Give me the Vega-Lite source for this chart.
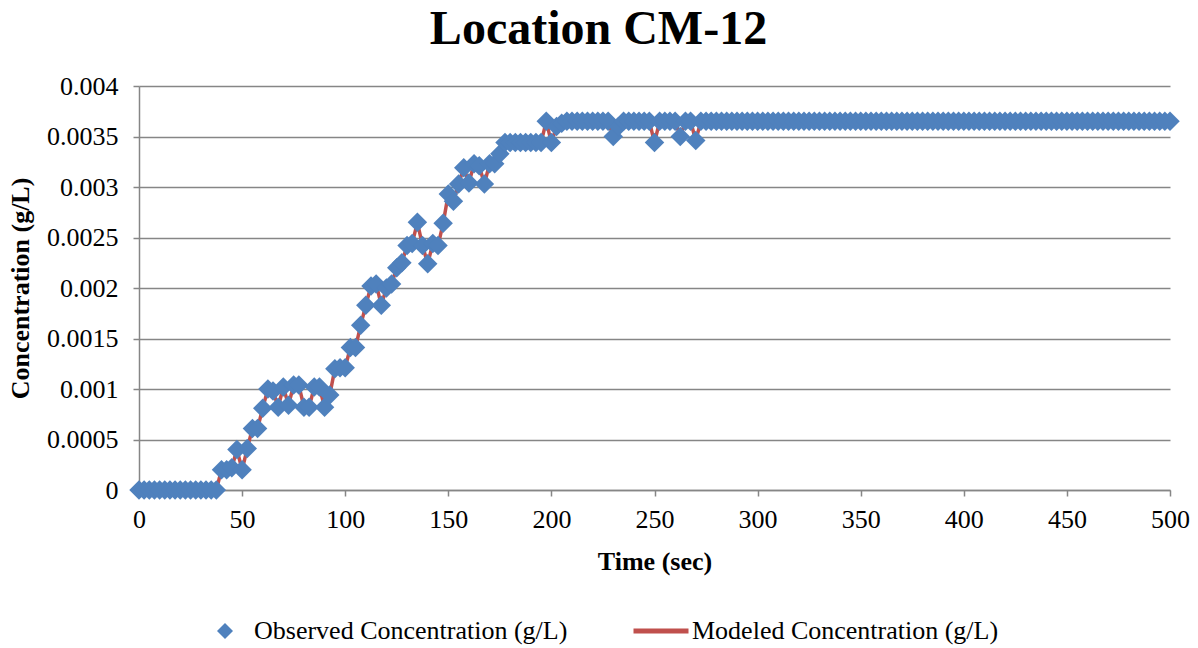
{
  "$schema": "https://vega.github.io/schema/vega-lite/v6.json",
  "width": 1031,
  "height": 404,
  "autosize": {"type": "none"},
  "padding": {"left": 139, "top": 86, "right": 28, "bottom": 158},
  "background": "white",
  "title": {
    "text": "Location CM-12",
    "font": "Liberation Serif",
    "fontSize": 48,
    "fontWeight": "bold",
    "color": "black",
    "anchor": "middle",
    "frame": "bounds",
    "offset": 19
  },
  "config": {
    "view": {"stroke": null},
    "axis": {
      "labelFont": "Liberation Serif",
      "labelFontSize": 26,
      "labelColor": "black",
      "titleFont": "Liberation Serif",
      "titleFontSize": 26,
      "titleFontWeight": "bold",
      "titleColor": "black",
      "domainColor": "#868686",
      "domainWidth": 1.5,
      "tickColor": "#868686",
      "tickWidth": 1.5,
      "tickSize": 6,
      "gridColor": "#868686",
      "gridWidth": 1.5,
      "gridOpacity": 1
    },
    "legend": {
      "labelFont": "Liberation Serif",
      "labelFontSize": 26,
      "labelColor": "black",
      "labelLimit": 600,
      "padding": 0
    }
  },
  "data": {
    "values": [
      {"time": 0, "observed": 0, "modeled": 0},
      {"time": 2.5, "observed": 0, "modeled": 0},
      {"time": 5, "observed": 0, "modeled": 0},
      {"time": 7.5, "observed": 0, "modeled": 0},
      {"time": 10, "observed": 0, "modeled": 0},
      {"time": 12.5, "observed": 0, "modeled": 0},
      {"time": 15, "observed": 0, "modeled": 0},
      {"time": 17.5, "observed": 0, "modeled": 0},
      {"time": 20, "observed": 0, "modeled": 0},
      {"time": 22.5, "observed": 0, "modeled": 0},
      {"time": 25, "observed": 0, "modeled": 0},
      {"time": 27.5, "observed": 0, "modeled": 0},
      {"time": 30, "observed": 0, "modeled": 0},
      {"time": 32.5, "observed": 0, "modeled": 0},
      {"time": 35, "observed": 0, "modeled": 0},
      {"time": 37.5, "observed": 0, "modeled": 0},
      {"time": 40, "observed": 0.0002, "modeled": 0.0002},
      {"time": 42.5, "observed": 0.0002, "modeled": 0.0002},
      {"time": 45, "observed": 0.00022, "modeled": 0.00022},
      {"time": 47.5, "observed": 0.0004, "modeled": 0.0004},
      {"time": 50, "observed": 0.0002, "modeled": 0.0002},
      {"time": 52.5, "observed": 0.00041, "modeled": 0.00041},
      {"time": 55, "observed": 0.00061, "modeled": 0.00061},
      {"time": 57.5, "observed": 0.00061, "modeled": 0.00061},
      {"time": 60, "observed": 0.00081, "modeled": 0.00081},
      {"time": 62.5, "observed": 0.001, "modeled": 0.001},
      {"time": 65, "observed": 0.00098, "modeled": 0.00098},
      {"time": 67.5, "observed": 0.00082, "modeled": 0.00082},
      {"time": 70, "observed": 0.00102, "modeled": 0.00102},
      {"time": 72.5, "observed": 0.00084, "modeled": 0.00084},
      {"time": 75, "observed": 0.00104, "modeled": 0.00104},
      {"time": 77.5, "observed": 0.00104, "modeled": 0.00104},
      {"time": 80, "observed": 0.00082, "modeled": 0.00082},
      {"time": 82.5, "observed": 0.00082, "modeled": 0.00082},
      {"time": 85, "observed": 0.00102, "modeled": 0.00102},
      {"time": 87.5, "observed": 0.00102, "modeled": 0.00102},
      {"time": 90, "observed": 0.00082, "modeled": 0.00082},
      {"time": 92.5, "observed": 0.00094, "modeled": 0.00094},
      {"time": 95, "observed": 0.0012, "modeled": 0.0012},
      {"time": 97.5, "observed": 0.00121, "modeled": 0.00121},
      {"time": 100, "observed": 0.00121, "modeled": 0.00121},
      {"time": 102.5, "observed": 0.00141, "modeled": 0.00141},
      {"time": 105, "observed": 0.00141, "modeled": 0.00141},
      {"time": 107.5, "observed": 0.00163, "modeled": 0.00163},
      {"time": 110, "observed": 0.00183, "modeled": 0.00183},
      {"time": 112.5, "observed": 0.00202, "modeled": 0.00202},
      {"time": 115, "observed": 0.00204, "modeled": 0.00204},
      {"time": 117.5, "observed": 0.00183, "modeled": 0.00183},
      {"time": 120, "observed": 0.002, "modeled": 0.002},
      {"time": 122.5, "observed": 0.00204, "modeled": 0.00204},
      {"time": 125, "observed": 0.0022, "modeled": 0.0022},
      {"time": 127.5, "observed": 0.00225, "modeled": 0.00225},
      {"time": 130, "observed": 0.00242, "modeled": 0.00242},
      {"time": 132.5, "observed": 0.00244, "modeled": 0.00244},
      {"time": 135, "observed": 0.00265, "modeled": 0.00265},
      {"time": 137.5, "observed": 0.00242, "modeled": 0.00242},
      {"time": 140, "observed": 0.00224, "modeled": 0.00224},
      {"time": 142.5, "observed": 0.00244, "modeled": 0.00244},
      {"time": 145, "observed": 0.00242, "modeled": 0.00242},
      {"time": 147.5, "observed": 0.00264, "modeled": 0.00264},
      {"time": 150, "observed": 0.00293, "modeled": 0.00293},
      {"time": 152.5, "observed": 0.00286, "modeled": 0.00286},
      {"time": 155, "observed": 0.00303, "modeled": 0.00303},
      {"time": 157.5, "observed": 0.00319, "modeled": 0.00319},
      {"time": 160, "observed": 0.00304, "modeled": 0.00304},
      {"time": 162.5, "observed": 0.00323, "modeled": 0.00323},
      {"time": 165, "observed": 0.00321, "modeled": 0.00321},
      {"time": 167.5, "observed": 0.00303, "modeled": 0.00303},
      {"time": 170, "observed": 0.00323, "modeled": 0.00323},
      {"time": 172.5, "observed": 0.00323, "modeled": 0.00323},
      {"time": 175, "observed": 0.00333, "modeled": 0.00333},
      {"time": 177.5, "observed": 0.00344, "modeled": 0.00344},
      {"time": 180, "observed": 0.00344, "modeled": 0.00344},
      {"time": 182.5, "observed": 0.00344, "modeled": 0.00344},
      {"time": 185, "observed": 0.00344, "modeled": 0.00344},
      {"time": 187.5, "observed": 0.00344, "modeled": 0.00344},
      {"time": 190, "observed": 0.00344, "modeled": 0.00344},
      {"time": 192.5, "observed": 0.00344, "modeled": 0.00344},
      {"time": 195, "observed": 0.00344, "modeled": 0.00344},
      {"time": 197.5, "observed": 0.00365, "modeled": 0.00365},
      {"time": 200, "observed": 0.00344, "modeled": 0.00344},
      {"time": 202.5, "observed": 0.0036, "modeled": 0.0036},
      {"time": 205, "observed": 0.00363, "modeled": 0.00363},
      {"time": 207.5, "observed": 0.00365, "modeled": 0.00365},
      {"time": 210, "observed": 0.00365, "modeled": 0.00365},
      {"time": 212.5, "observed": 0.00365, "modeled": 0.00365},
      {"time": 215, "observed": 0.00365, "modeled": 0.00365},
      {"time": 217.5, "observed": 0.00365, "modeled": 0.00365},
      {"time": 220, "observed": 0.00365, "modeled": 0.00365},
      {"time": 222.5, "observed": 0.00365, "modeled": 0.00365},
      {"time": 225, "observed": 0.00365, "modeled": 0.00365},
      {"time": 227.5, "observed": 0.00365, "modeled": 0.00365},
      {"time": 230, "observed": 0.0035, "modeled": 0.0035},
      {"time": 232.5, "observed": 0.0036, "modeled": 0.0036},
      {"time": 235, "observed": 0.00365, "modeled": 0.00365},
      {"time": 237.5, "observed": 0.00365, "modeled": 0.00365},
      {"time": 240, "observed": 0.00365, "modeled": 0.00365},
      {"time": 242.5, "observed": 0.00365, "modeled": 0.00365},
      {"time": 245, "observed": 0.00365, "modeled": 0.00365},
      {"time": 247.5, "observed": 0.00365, "modeled": 0.00365},
      {"time": 250, "observed": 0.00344, "modeled": 0.00344},
      {"time": 252.5, "observed": 0.00365, "modeled": 0.00365},
      {"time": 255, "observed": 0.00365, "modeled": 0.00365},
      {"time": 257.5, "observed": 0.00365, "modeled": 0.00365},
      {"time": 260, "observed": 0.00365, "modeled": 0.00365},
      {"time": 262.5, "observed": 0.0035, "modeled": 0.0035},
      {"time": 265, "observed": 0.00365, "modeled": 0.00365},
      {"time": 267.5, "observed": 0.00365, "modeled": 0.00365},
      {"time": 270, "observed": 0.00346, "modeled": 0.00346},
      {"time": 272.5, "observed": 0.00365, "modeled": 0.00365},
      {"time": 275, "observed": 0.00365, "modeled": 0.00365},
      {"time": 277.5, "observed": 0.00365, "modeled": 0.00365},
      {"time": 280, "observed": 0.00365, "modeled": 0.00365},
      {"time": 282.5, "observed": 0.00365, "modeled": 0.00365},
      {"time": 285, "observed": 0.00365, "modeled": 0.00365},
      {"time": 287.5, "observed": 0.00365, "modeled": 0.00365},
      {"time": 290, "observed": 0.00365, "modeled": 0.00365},
      {"time": 292.5, "observed": 0.00365, "modeled": 0.00365},
      {"time": 295, "observed": 0.00365, "modeled": 0.00365},
      {"time": 297.5, "observed": 0.00365, "modeled": 0.00365},
      {"time": 300, "observed": 0.00365, "modeled": 0.00365},
      {"time": 302.5, "observed": 0.00365, "modeled": 0.00365},
      {"time": 305, "observed": 0.00365, "modeled": 0.00365},
      {"time": 307.5, "observed": 0.00365, "modeled": 0.00365},
      {"time": 310, "observed": 0.00365, "modeled": 0.00365},
      {"time": 312.5, "observed": 0.00365, "modeled": 0.00365},
      {"time": 315, "observed": 0.00365, "modeled": 0.00365},
      {"time": 317.5, "observed": 0.00365, "modeled": 0.00365},
      {"time": 320, "observed": 0.00365, "modeled": 0.00365},
      {"time": 322.5, "observed": 0.00365, "modeled": 0.00365},
      {"time": 325, "observed": 0.00365, "modeled": 0.00365},
      {"time": 327.5, "observed": 0.00365, "modeled": 0.00365},
      {"time": 330, "observed": 0.00365, "modeled": 0.00365},
      {"time": 332.5, "observed": 0.00365, "modeled": 0.00365},
      {"time": 335, "observed": 0.00365, "modeled": 0.00365},
      {"time": 337.5, "observed": 0.00365, "modeled": 0.00365},
      {"time": 340, "observed": 0.00365, "modeled": 0.00365},
      {"time": 342.5, "observed": 0.00365, "modeled": 0.00365},
      {"time": 345, "observed": 0.00365, "modeled": 0.00365},
      {"time": 347.5, "observed": 0.00365, "modeled": 0.00365},
      {"time": 350, "observed": 0.00365, "modeled": 0.00365},
      {"time": 352.5, "observed": 0.00365, "modeled": 0.00365},
      {"time": 355, "observed": 0.00365, "modeled": 0.00365},
      {"time": 357.5, "observed": 0.00365, "modeled": 0.00365},
      {"time": 360, "observed": 0.00365, "modeled": 0.00365},
      {"time": 362.5, "observed": 0.00365, "modeled": 0.00365},
      {"time": 365, "observed": 0.00365, "modeled": 0.00365},
      {"time": 367.5, "observed": 0.00365, "modeled": 0.00365},
      {"time": 370, "observed": 0.00365, "modeled": 0.00365},
      {"time": 372.5, "observed": 0.00365, "modeled": 0.00365},
      {"time": 375, "observed": 0.00365, "modeled": 0.00365},
      {"time": 377.5, "observed": 0.00365, "modeled": 0.00365},
      {"time": 380, "observed": 0.00365, "modeled": 0.00365},
      {"time": 382.5, "observed": 0.00365, "modeled": 0.00365},
      {"time": 385, "observed": 0.00365, "modeled": 0.00365},
      {"time": 387.5, "observed": 0.00365, "modeled": 0.00365},
      {"time": 390, "observed": 0.00365, "modeled": 0.00365},
      {"time": 392.5, "observed": 0.00365, "modeled": 0.00365},
      {"time": 395, "observed": 0.00365, "modeled": 0.00365},
      {"time": 397.5, "observed": 0.00365, "modeled": 0.00365},
      {"time": 400, "observed": 0.00365, "modeled": 0.00365},
      {"time": 402.5, "observed": 0.00365, "modeled": 0.00365},
      {"time": 405, "observed": 0.00365, "modeled": 0.00365},
      {"time": 407.5, "observed": 0.00365, "modeled": 0.00365},
      {"time": 410, "observed": 0.00365, "modeled": 0.00365},
      {"time": 412.5, "observed": 0.00365, "modeled": 0.00365},
      {"time": 415, "observed": 0.00365, "modeled": 0.00365},
      {"time": 417.5, "observed": 0.00365, "modeled": 0.00365},
      {"time": 420, "observed": 0.00365, "modeled": 0.00365},
      {"time": 422.5, "observed": 0.00365, "modeled": 0.00365},
      {"time": 425, "observed": 0.00365, "modeled": 0.00365},
      {"time": 427.5, "observed": 0.00365, "modeled": 0.00365},
      {"time": 430, "observed": 0.00365, "modeled": 0.00365},
      {"time": 432.5, "observed": 0.00365, "modeled": 0.00365},
      {"time": 435, "observed": 0.00365, "modeled": 0.00365},
      {"time": 437.5, "observed": 0.00365, "modeled": 0.00365},
      {"time": 440, "observed": 0.00365, "modeled": 0.00365},
      {"time": 442.5, "observed": 0.00365, "modeled": 0.00365},
      {"time": 445, "observed": 0.00365, "modeled": 0.00365},
      {"time": 447.5, "observed": 0.00365, "modeled": 0.00365},
      {"time": 450, "observed": 0.00365, "modeled": 0.00365},
      {"time": 452.5, "observed": 0.00365, "modeled": 0.00365},
      {"time": 455, "observed": 0.00365, "modeled": 0.00365},
      {"time": 457.5, "observed": 0.00365, "modeled": 0.00365},
      {"time": 460, "observed": 0.00365, "modeled": 0.00365},
      {"time": 462.5, "observed": 0.00365, "modeled": 0.00365},
      {"time": 465, "observed": 0.00365, "modeled": 0.00365},
      {"time": 467.5, "observed": 0.00365, "modeled": 0.00365},
      {"time": 470, "observed": 0.00365, "modeled": 0.00365},
      {"time": 472.5, "observed": 0.00365, "modeled": 0.00365},
      {"time": 475, "observed": 0.00365, "modeled": 0.00365},
      {"time": 477.5, "observed": 0.00365, "modeled": 0.00365},
      {"time": 480, "observed": 0.00365, "modeled": 0.00365},
      {"time": 482.5, "observed": 0.00365, "modeled": 0.00365},
      {"time": 485, "observed": 0.00365, "modeled": 0.00365},
      {"time": 487.5, "observed": 0.00365, "modeled": 0.00365},
      {"time": 490, "observed": 0.00365, "modeled": 0.00365},
      {"time": 492.5, "observed": 0.00365, "modeled": 0.00365},
      {"time": 495, "observed": 0.00365, "modeled": 0.00365},
      {"time": 497.5, "observed": 0.00365, "modeled": 0.00365},
      {"time": 500, "observed": 0.00365, "modeled": 0.00365}
    ]
  },
  "encoding": {
    "x": {
      "field": "time",
      "type": "quantitative",
      "scale": {"domain": [0, 500], "nice": false, "zero": true},
      "axis": {
        "title": "Time (sec)",
        "values": [0, 50, 100, 150, 200, 250, 300, 350, 400, 450, 500],
        "grid": false,
        "labelPadding": 10,
        "titlePadding": 16,
        "labelFlush": false
      }
    }
  },
  "layer": [
    {
      "mark": {"type": "line", "strokeWidth": 3.5, "color": "#C0504D", "clip": false},
      "encoding": {
        "y": {
          "field": "modeled",
          "type": "quantitative",
          "scale": {"domain": [0, 0.004], "nice": false},
          "axis": {
            "title": "Concentration (g/L)",
            "values": [0, 0.0005, 0.001, 0.0015, 0.002, 0.0025, 0.003, 0.0035, 0.004],
            "format": "~g",
            "grid": true,
            "labelPadding": 15,
            "titlePadding": 13,
            "labelFlush": false
          }
        },
        "color": {
          "datum": "Modeled Concentration (g/L)",
          "type": "nominal",
          "scale": {"range": ["#C0504D"]},
          "legend": {
            "orient": "none",
            "legendX": 492,
            "legendY": 515,
            "title": null,
            "symbolType": "stroke",
            "symbolSize": 3025,
            "symbolStrokeWidth": 5,
            "labelOffset": 1
          }
        }
      }
    },
    {
      "mark": {"type": "point", "shape": "diamond", "filled": true, "size": 380, "opacity": 1, "color": "#4F81BD"},
      "encoding": {
        "y": {
          "field": "observed",
          "type": "quantitative",
          "scale": {"domain": [0, 0.004], "nice": false},
          "axis": {
            "title": "Concentration (g/L)",
            "values": [0, 0.0005, 0.001, 0.0015, 0.002, 0.0025, 0.003, 0.0035, 0.004],
            "format": "~g",
            "grid": true,
            "labelPadding": 15,
            "titlePadding": 13,
            "labelFlush": false
          }
        },
        "shape": {
          "datum": "Observed Concentration (g/L)",
          "type": "nominal",
          "scale": {"range": ["diamond"]},
          "legend": {
            "orient": "none",
            "legendX": 73,
            "legendY": 532,
            "title": null,
            "symbolSize": 256,
            "symbolFillColor": "#4F81BD",
            "symbolStrokeWidth": 0,
            "symbolOpacity": 1,
            "labelOffset": 16
          }
        }
      }
    }
  ]
}
